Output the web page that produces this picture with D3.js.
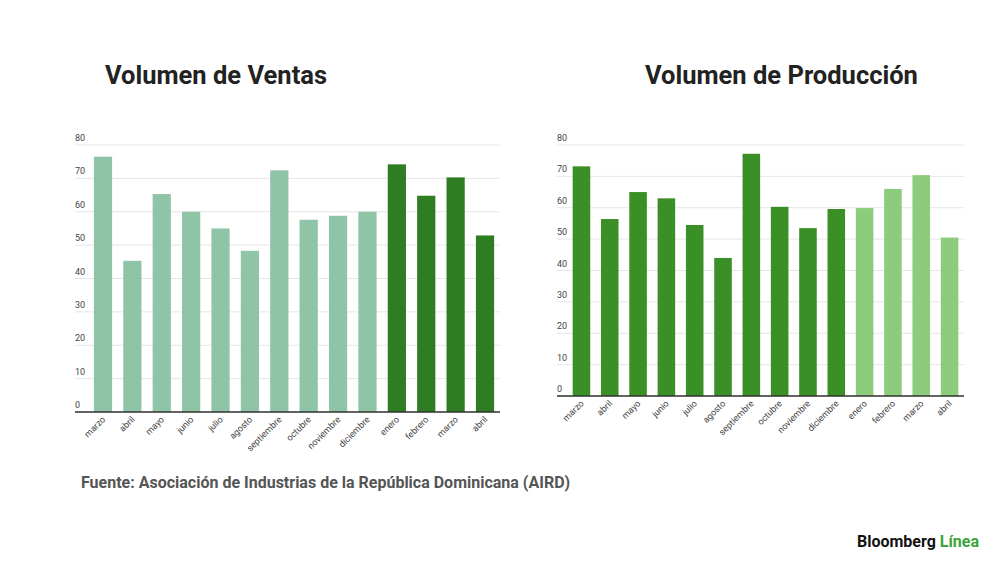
<!DOCTYPE html>
<html><head><meta charset="utf-8">
<script src="https://cdn.jsdelivr.net/npm/d3@7"></script>
<style>body{margin:0;background:#fff;font-family:Roboto,"Open Sans",sans-serif}</style>
</head><body><svg id="c" width="1000" height="562"></svg>
<script>
const meses = ["marzo","abril","mayo","junio","julio","agosto","septiembre","octubre","noviembre","diciembre","enero","febrero","marzo","abril"];
const ventas = [76.5,45.3,65.3,60,55,48.3,72.4,57.6,58.8,60,74.2,64.8,70.3,52.9];
const produccion = [73.2,56.4,65,63,54.5,44,77.2,60.3,53.5,59.6,59.9,66,70.4,50.5];
const yTicks = [0,10,20,30,40,50,60,70,80];

const svg = d3.select('#c');

function chart(vals, x0, x1, yTop, yBot, colOld, colNew, tickX, lineX0) {
    const g = svg.append('g');
    const x = d3.scaleBand().domain(d3.range(vals.length)).range([x0, x1]).paddingInner(0.38).paddingOuter(0.2);
    const y = d3.scaleLinear().domain([0, 80]).range([yBot, yTop]);
    yTicks.forEach(t => {
        g.append('line').attr('x1', lineX0).attr('x2', x1).attr('y1', y(t)).attr('y2', y(t))
            .attr('stroke', '#e6e6e6');
        g.append('text').attr('x', tickX).attr('y', y(t) - 4).text(t)
            .attr('font-size', 9).attr('fill', '#444');
    });
    g.selectAll('rect').data(vals).enter().append('rect')
        .attr('x', (d, i) => x(i)).attr('width', x.bandwidth())
        .attr('y', d => y(d)).attr('height', d => yBot - y(d))
        .attr('fill', (d, i) => i < 10 ? colOld : colNew);
    g.append('line').attr('x1', lineX0).attr('x2', x1).attr('y1', yBot).attr('y2', yBot)
        .attr('stroke', '#333').attr('stroke-width', 1.5);
    meses.forEach((m, i) => {
        const cx = x(i) + x.bandwidth() / 2 + 3;
        g.append('text').attr('transform', `translate(${cx},${yBot + 8}) rotate(-45)`)
            .attr('text-anchor', 'end').attr('font-size', 9).attr('fill', '#444').text(m);
    });
}

chart(ventas, 88, 500, 145, 412, '#8fc4a6', '#2f7d22', 75, 75);
chart(produccion, 567, 964, 145, 396, '#3a8f26', '#8ccc7c', 557, 557);

svg.append('text').attr('x', 105).attr('y', 84).text('Volumen de Ventas')
    .attr('font-size', 25.5).attr('font-weight', 'bold').attr('fill', '#222');
svg.append('text').attr('x', 645).attr('y', 84).text('Volumen de Producción')
    .attr('font-size', 25.5).attr('font-weight', 'bold').attr('fill', '#222');
svg.append('text').attr('x', 81).attr('y', 488).text('Fuente: Asociación de Industrias de la República Dominicana (AIRD)')
    .attr('font-size', 16).attr('font-weight', 'bold').attr('fill', '#555');
const logo = svg.append('text').attr('x', 857).attr('y', 547).attr('font-size', 16).attr('font-weight', 'bold');
logo.append('tspan').text('Bloomberg ').attr('fill', '#111');
logo.append('tspan').text('Línea').attr('fill', '#3aa53a');
</script></body></html>
